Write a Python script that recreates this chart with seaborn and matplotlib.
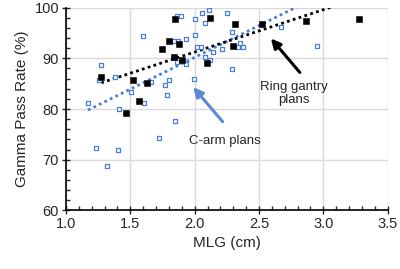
import numpy as np
import pandas as pd
import seaborn as sns
import matplotlib
matplotlib.use("Agg")
import matplotlib.pyplot as plt
from matplotlib.ticker import MultipleLocator

# Ring gantry plans (filled black squares)
ring_mlg = [1.847, 2.12, 1.80, 1.878, 1.748, 1.84, 1.904, 2.096, 1.274, 1.518,
            1.632, 1.567, 1.466, 2.313, 2.52, 2.865, 2.30, 3.274]
ring_gpr = [97.7, 98.0, 93.5, 92.9, 91.9, 90.2, 89.6, 89.0, 86.4, 85.7,
            85.1, 81.5, 79.2, 96.7, 96.7, 97.4, 92.5, 97.7]

# C-arm plans (open blue squares)
carm_mlg = [1.86, 1.894, 2.108, 2.057, 2.083, 2.005, 1.596, 2.005, 1.93, 1.84,
            1.868, 2.015, 2.046, 2.145, 2.083, 2.12, 1.865, 1.93, 1.274, 1.259,
            1.378, 1.992, 1.658, 1.80, 1.772, 1.503, 1.787, 1.171, 1.608, 1.414,
            1.849, 1.725, 1.237, 1.404, 1.316, 2.249, 2.287, 2.67, 2.953, 2.287,
            2.34, 2.378, 2.352, 2.21]
carm_gpr = [98.4, 98.4, 99.6, 99.0, 97.0, 97.7, 94.4, 94.5, 93.8, 93.5,
            93.5, 92.2, 92.2, 91.2, 90.2, 89.6, 89.2, 88.9, 88.6, 85.7,
            86.3, 86.0, 85.4, 85.7, 84.7, 83.4, 82.8, 81.1, 81.1, 80.1,
            77.6, 74.2, 72.4, 72.0, 68.8, 99.0, 95.1, 96.1, 92.5, 87.9,
            92.3, 92.3, 93.1, 91.8]

ring_df = pd.DataFrame({"mlg": ring_mlg, "gpr": ring_gpr})
carm_df = pd.DataFrame({"mlg": carm_mlg, "gpr": carm_gpr})

blue = "#4a7fd4"
arrow_blue = "#5b8bd6"

sns.set_style("white")
plt.rcParams["font.family"] = ["Liberation Sans", "DejaVu Sans"]

fig = plt.figure(figsize=(4.0, 2.69), dpi=100)
ax = fig.add_axes([0.165, 0.2175, 0.804, 0.7545])

# Trend lines (linear fit over each series' range)
sns.regplot(data=carm_df, x="mlg", y="gpr", scatter=False, ci=None, truncate=True,
            color=blue, line_kws={"linestyle": (0, (1, 1.2)), "linewidth": 2}, ax=ax)
sns.regplot(data=ring_df, x="mlg", y="gpr", scatter=False, ci=None, truncate=True,
            color="black", line_kws={"linestyle": (0, (1, 1.2)), "linewidth": 2}, ax=ax)

# Points
sns.scatterplot(data=carm_df, x="mlg", y="gpr", marker="s", s=8,
                facecolor="white", edgecolor=blue, linewidth=0.9, ax=ax, zorder=3)
sns.scatterplot(data=ring_df, x="mlg", y="gpr", marker="s", s=13,
                color="black", edgecolor="black", linewidth=0.4, ax=ax, zorder=4)

ax.set_xlim(1.0, 3.5)
ax.set_ylim(60, 100)
ax.xaxis.set_minor_locator(MultipleLocator(0.1))
ax.yaxis.set_major_locator(MultipleLocator(10))
ax.yaxis.set_minor_locator(MultipleLocator(2))
ax.set_xticks(np.arange(1.0, 3.51, 0.5))
ax.set_xticklabels([f"{v:.1f}" for v in np.arange(1.0, 3.51, 0.5)])

ax.grid(True, which="major", color="#d9d9d9", linewidth=1)
ax.set_axisbelow(True)
for side in ["top", "right"]:
    ax.spines[side].set_visible(False)
for side in ["left", "bottom"]:
    ax.spines[side].set_color("black")
    ax.spines[side].set_linewidth(1.2)

ax.tick_params(which="major", direction="inout", length=6, width=1, labelsize=10.5, pad=2)
ax.tick_params(which="minor", direction="in", length=3, width=1)
ax.tick_params(axis="x", which="both", bottom=True)
ax.tick_params(axis="y", which="both", left=True)

ax.set_xlabel("MLG (cm)", fontsize=11, labelpad=3)
ax.set_ylabel("Gamma Pass Rate (%)", fontsize=11, labelpad=4)

# Annotations
ax.text(2.77, 83.0, "Ring gantry\nplans", ha="center", va="center",
        fontsize=9.5, linespacing=1.15)
ax.annotate("", xy=(2.593, 93.9), xytext=(2.818, 87.2),
            arrowprops=dict(arrowstyle="-|>", color="black", lw=2.2,
                            mutation_scale=14, shrinkA=0, shrinkB=0))
ax.text(2.235, 73.6, "C-arm plans", ha="center", va="center", fontsize=9.5)
ax.annotate("", xy=(1.989, 84.3), xytext=(2.218, 77.5),
            arrowprops=dict(arrowstyle="-|>", color=arrow_blue, lw=2.2,
                            mutation_scale=14, shrinkA=0, shrinkB=0))

fig.savefig("out.png", dpi=100)
